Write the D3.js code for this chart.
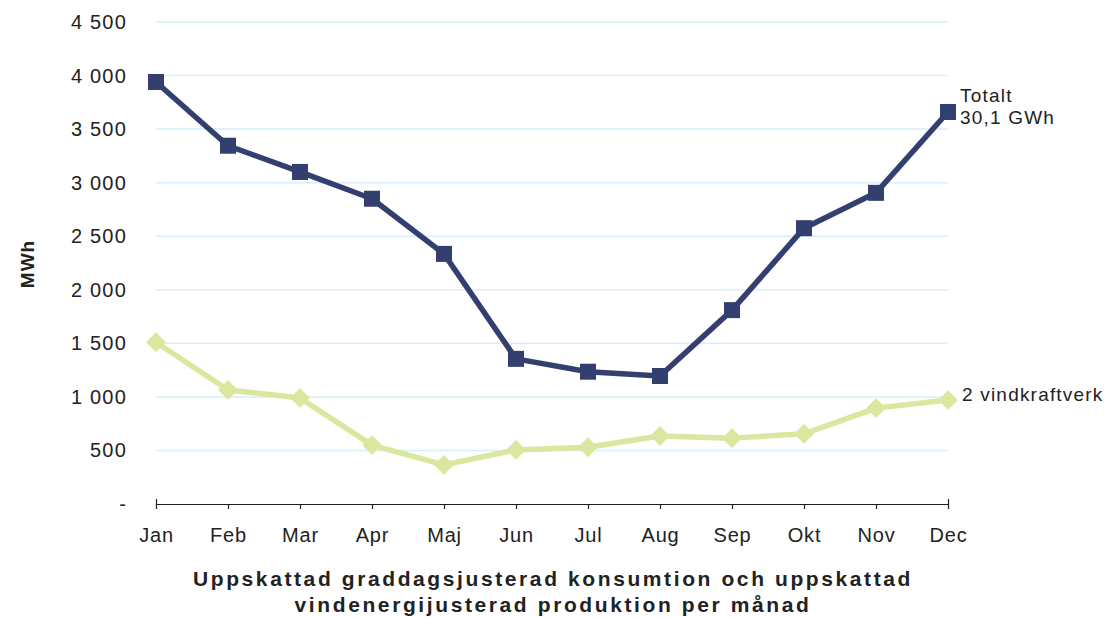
<!DOCTYPE html>
<html>
<head>
<meta charset="utf-8">
<script src="https://cdn.jsdelivr.net/npm/d3@7"></script>
<style>
  body { margin: 0; background: #fff; }
  text { font-family: "Liberation Sans", Arial, sans-serif; fill: #222; }
</style>
</head>
<body>
<svg id="chart"></svg>
<script>
const width = 1115, height = 618;
const marginLeft = 156, marginRight = 167, marginTop = 22, marginBottom = 114;

const months = ['Jan', 'Feb', 'Mar', 'Apr', 'Maj', 'Jun', 'Jul', 'Aug', 'Sep', 'Okt', 'Nov', 'Dec'];
const totalt = [3940, 3345, 3100, 2850, 2335, 1355, 1235, 1195, 1810, 2575, 2905, 3660];
const vind = [1510, 1065, 990, 550, 365, 505, 530, 635, 615, 655, 895, 970];
const yTicks = [0, 500, 1000, 1500, 2000, 2500, 3000, 3500, 4000, 4500];

const svg = d3.select('#chart')
  .attr('width', width)
  .attr('height', height);

const x = d3.scalePoint()
  .domain(months)
  .range([marginLeft, width - marginRight]);

const y = d3.scaleLinear()
  .domain([0, 4500])
  .range([height - marginBottom, marginTop]);

// gridlines
svg.append('g')
  .selectAll('line')
  .data(yTicks.filter(d => d > 0))
  .join('line')
  .attr('x1', marginLeft)
  .attr('x2', width - marginRight)
  .attr('y1', d => y(d))
  .attr('y2', d => y(d))
  .style('stroke', '#d9eef8')
  .style('stroke-width', 1.5);

// y labels, no axis line
const fmt = d => d === 0 ? '-' : d3.format(',')(d).replace(',', ' ');
svg.append('g')
  .selectAll('text')
  .data(yTicks)
  .join('text')
  .attr('x', 127)
  .attr('y', d => y(d))
  .attr('dy', '0.35em')
  .attr('text-anchor', 'end')
  .style('font-size', '20px')
  .style('letter-spacing', '1.2px')
  .text(fmt);

// x axis
const xAxis = svg.append('g')
  .attr('transform', `translate(0,${y(0)})`)
  .call(d3.axisBottom(x).tickSize(-5).tickSizeOuter(-5).tickPadding(12));
xAxis.select('.domain').style('stroke', '#222').style('stroke-width', 1.2);
xAxis.selectAll('.tick line').style('stroke', '#222').style('stroke-width', 1.2)
  .attr('y2', 5);
xAxis.selectAll('.tick text')
  .attr('y', 24)
  .style('font-size', '20px')
  .style('letter-spacing', '0.8px')
  .style('font-family', '"Liberation Sans", Arial, sans-serif')
  .style('fill', '#222');

// y title
svg.append('text')
  .attr('transform', 'translate(34,264) rotate(-90)')
  .attr('text-anchor', 'middle')
  .style('font-size', '19px')
  .style('font-weight', 'bold')
  .style('letter-spacing', '1px')
  .text('MWh');

// bottom title
const title = svg.append('text')
  .attr('text-anchor', 'middle')
  .style('font-size', '21px')
  .style('font-weight', 'bold')
  .style('letter-spacing', '2.6px');
title.append('tspan').attr('x', 553).attr('y', 586)
  .text('Uppskattad graddagsjusterad konsumtion och uppskattad');
title.append('tspan').attr('x', 553).attr('y', 612)
  .text('vindenergijusterad produktion per månad');

const line = d3.line()
  .x((d, i) => x(months[i]))
  .y(d => y(d));

// vind series
svg.append('path')
  .datum(vind)
  .attr('d', line)
  .style('fill', 'none')
  .style('stroke', '#dbe69f')
  .style('stroke-width', 5.5)
  .style('stroke-linejoin', 'round');
svg.append('g')
  .selectAll('path')
  .data(vind)
  .join('path')
  .attr('transform', (d, i) => `translate(${x(months[i])},${y(d)}) rotate(45)`)
  .attr('d', 'M-7,-7h14v14h-14z')
  .style('fill', '#dbe69f');

// totalt series
svg.append('path')
  .datum(totalt)
  .attr('d', line)
  .style('fill', 'none')
  .style('stroke', '#333f6e')
  .style('stroke-width', 5.5)
  .style('stroke-linejoin', 'round');
svg.append('g')
  .selectAll('rect')
  .data(totalt)
  .join('rect')
  .attr('x', (d, i) => x(months[i]) - 8)
  .attr('y', d => y(d) - 8)
  .attr('width', 16)
  .attr('height', 16)
  .style('fill', '#333f6e');

// series labels
const lastX = x(months[months.length - 1]);
const lab = svg.append('text')
  .style('font-size', '19px')
  .style('letter-spacing', '1.2px');
lab.append('tspan').attr('x', lastX + 12).attr('y', y(totalt[11]) - 10).text('Totalt');
lab.append('tspan').attr('x', lastX + 12).attr('y', y(totalt[11]) + 12).text('30,1 GWh');

svg.append('text')
  .attr('x', lastX + 14)
  .attr('y', y(vind[11]) + 1)
  .style('font-size', '19px')
  .style('letter-spacing', '1.2px')
  .text('2 vindkraftverk');
</script>
</body>
</html>
